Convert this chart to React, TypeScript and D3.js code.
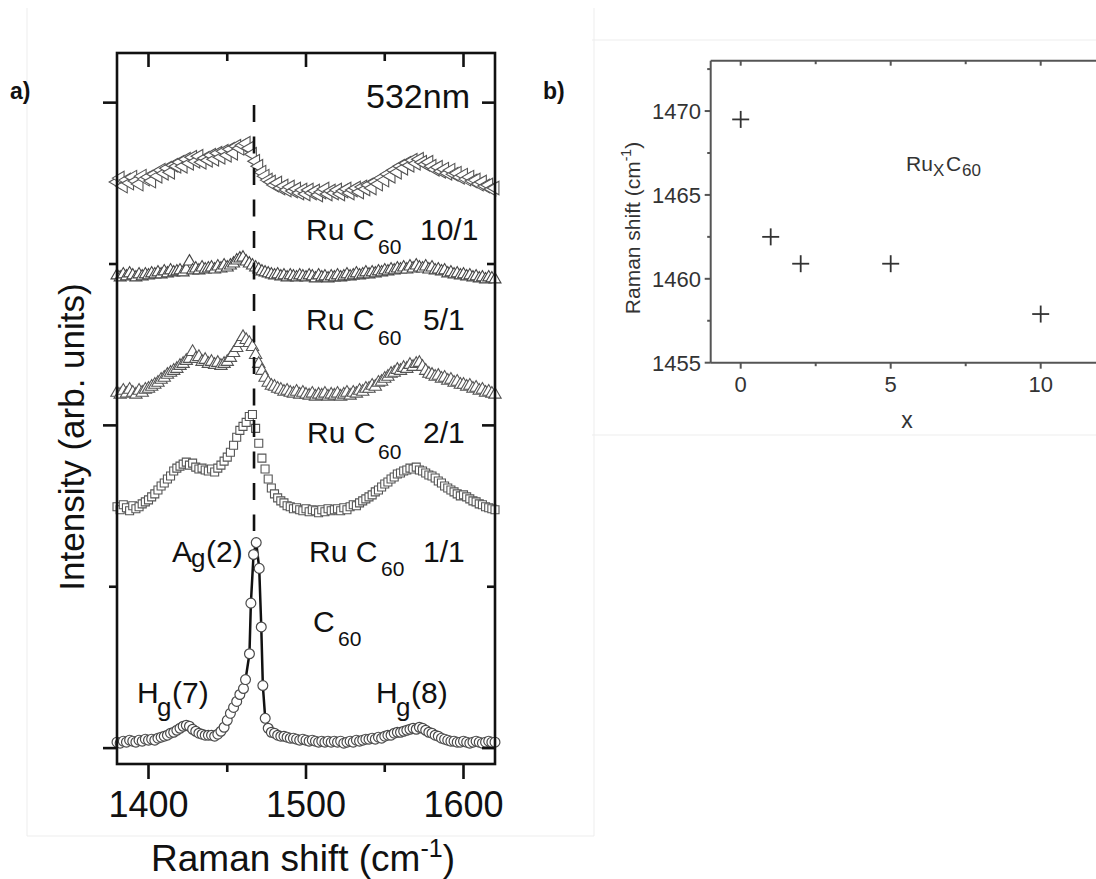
import React from 'react';
import * as d3 from 'd3';

const FONT = "'Liberation Sans', Arial, Helvetica, sans-serif";

// ---------- Panel a data (stacked Raman spectra, arb. units) ----------
const shiftGrid = d3.range(1380, 1621, 2); // wavenumbers (cm-1) for Ru-C60 spectra

const ru10_1 = [
  570, 574, 566, 572, 569, 575, 571, 568, 576, 573,
  575, 571, 578, 576, 582, 579, 584, 580, 587, 586,
  590, 586, 593, 589, 595, 591, 596, 590, 594, 592,
  597, 593, 599, 595, 601, 597, 603, 599, 606, 604,
  607, 609, 604, 598, 591, 586, 580, 576, 572, 570,
  567, 569, 564, 566, 562, 565, 561, 563, 559, 562,
  558, 562, 559, 561, 557, 560, 563, 558, 561, 559,
  562, 558, 561, 563, 559, 562, 564, 560, 565, 563,
  567, 564, 570, 568, 574, 572, 578, 576, 582, 580,
  586, 584, 589, 587, 592, 589, 593, 590, 588, 590,
  586, 583, 585, 581, 583, 579, 582, 578, 579, 575,
  577, 573, 575, 571, 572, 568, 570, 566, 567, 563,
  564,
];

const ru5_1 = [
  476, 474, 477, 475, 478, 476, 474, 477, 475, 477,
  476, 478, 477, 479, 477, 480, 478, 481, 479, 480,
  481, 479, 482, 490, 481, 483, 481, 484, 482, 483,
  484, 482, 485, 483, 486, 484, 486, 488, 491, 493,
  494, 490, 488, 486, 484, 482, 480, 479, 478, 477,
  476, 477, 475, 476, 474, 476, 475, 474, 476, 475,
  474, 476, 475, 473, 476, 474, 475, 473, 475, 474,
  476, 474, 475, 477, 475, 476, 478, 476, 477, 479,
  477, 479, 478, 480, 479, 481, 480, 482, 481, 483,
  482, 484, 482, 485, 483, 486, 484, 483, 485, 482,
  484, 481, 482, 480, 481, 478, 479, 477, 478, 476,
  477, 475, 476, 474, 475, 473, 474, 472, 474, 473,
  472,
];

const ru2_1 = [
  358, 356, 360, 357, 361, 358, 356, 360, 358, 361,
  362, 364, 366, 368, 371, 373, 376, 378, 380, 382,
  385, 387, 390, 392, 399, 392, 394, 389, 391, 387,
  389, 386, 388, 385, 387, 389, 393, 398, 403, 408,
  414, 411, 408, 404, 396, 387, 380, 373, 368, 365,
  364, 362, 361, 359, 360, 358, 357, 359, 356, 358,
  356, 355, 357, 354, 356, 355, 357, 354, 356, 355,
  357, 354, 356, 358, 355, 358, 357, 360, 359, 362,
  362, 365, 364, 368, 369, 372, 374, 377, 378, 381,
  380, 383, 382, 386, 384, 387, 388, 384, 380, 377,
  376, 374, 375, 372, 373, 370, 371, 368, 369, 366,
  366, 364, 365, 362, 363, 360, 361, 358, 359, 357,
  356,
];

const ru1_1 = [
  243, 240, 245, 242, 239, 244, 241, 243, 246, 248,
  250, 253, 256, 260, 264, 267, 271, 274, 279, 282,
  284, 286, 288, 285, 287, 283, 281, 282, 280, 279,
  281, 278, 282, 285, 289, 293, 298, 305, 313, 320,
  324, 328, 334, 336, 322, 307, 292, 281, 271, 262,
  256, 252, 249, 247, 244, 243, 241, 242, 240, 239,
  241, 238, 240, 239, 237, 240, 238, 241, 239, 240,
  241, 239, 242, 240, 243, 245, 244, 247, 249, 251,
  253, 255, 258, 260, 263, 266, 268, 271, 273, 276,
  277, 279, 280, 282, 281, 283, 280, 279, 277, 275,
  274, 272, 269, 267, 264, 262, 260, 258, 256, 254,
  255, 253, 251, 249, 248, 246, 245, 243, 242, 241,
  240,
];

const c60Shift = [
  ...d3.range(1380, 1459, 2),
  1460.3, 1461.6, 1464.1, 1465.0, 1466.7, 1468.4, 1470.3, 1471.6, 1472.6, 1474.1,
  ...d3.range(1476, 1621, 2),
];
const c60Intensity = [
  6, 5, 7, 6, 8, 7, 6, 8, 7, 9,
  8, 9, 8, 10, 11, 12, 13, 15, 16, 18,
  20, 22, 23, 22, 19, 17, 15, 14, 13, 13,
  13, 12, 14, 17, 21, 28, 35, 41, 47, 54,
  60, 69, 95, 146, 195, 207, 181, 122, 63, 30,
  20, 16, 15, 13, 12, 12, 11, 10, 10, 9,
  8, 9, 8, 7, 8, 7, 6, 7, 6, 7,
  6, 7, 6, 7, 5, 6, 7, 6, 8, 7,
  8, 9, 9, 10, 9, 11, 10, 12, 13, 13,
  15, 16, 16, 17, 18, 19, 20, 19, 21, 20,
  18, 16, 15, 13, 12, 10, 9, 8, 7, 7,
  6, 6, 7, 6, 5, 6, 7, 6, 5, 6,
  7, 6, 6,
];

const ag2Position = 1467; // dashed reference line (cm-1)
const xTicksA = [1400, 1500, 1600];
const xMinorA = [1450, 1550];
const yTicksA = [0, 325, 650];
const yMinorA = [162.5, 487.5];

// ---------- Panel b data ----------
const ruRatio = [0, 1, 2, 5, 10];
const ag2Shift = [1469.5, 1462.5, 1460.9, 1460.9, 1457.9];
const xTicksB = [0, 5, 10];
const xMinorB = [2.5, 7.5, 12.5];
const yTicksB = [1455, 1460, 1465, 1470];
const yMinorB = [1457.5, 1462.5, 1467.5, 1472.5];

export default function App() {
  const W = 1096, H = 879;
  // panel a
  const L = 117, R = 495, T = 53, B = 764;
  const xA = d3.scaleLinear().domain([1380, 1620]).range([L, R]);
  const yA = d3.scaleLinear().domain([-16, 700]).range([B, T]);

  // panel b
  const bL = 710.7, bT = 60.7, bB = 362.7, bR = 1130.7;
  const xB = d3.scaleLinear().domain([-1, 13]).range([bL, bR]);
  const yB = d3.scaleLinear().domain([1455, 1473]).range([bB, bT]);

  const sym = (type: any, size: number) => d3.symbol().type(type).size(size)() as string;

  const ruSeries = [
    { key: 's10', values: ru10_1, path: sym(d3.symbolTriangle, 80), rot: -90, stroke: '#555' },
    { key: 's5', values: ru5_1, path: sym(d3.symbolTriangle, 62), rot: 0, stroke: '#444' },
    { key: 's2', values: ru2_1, path: sym(d3.symbolTriangle, 66), rot: 0, stroke: '#555' },
    { key: 's1', values: ru1_1, path: sym(d3.symbolSquare, 64), rot: 0, stroke: '#555' },
  ];
  const circlePath = sym(d3.symbolCircle, 76);

  const c60Line = d3.line<number>()
    .x((_, i) => xA(c60Shift[i]))
    .y((d) => yA(d))(c60Intensity) as string;

  const frameW = 2.6;
  const labelSize = 30;

  const ruLabel = (x: number, base: number, ratio: string, subX: number, ratioX: number, subDy: number) => (
    <text fontFamily={FONT} fontSize={labelSize} fill="#111">
      <tspan x={x} y={base}>Ru C</tspan>
      <tspan x={subX} y={base + subDy} fontSize={21}>60</tspan>
      <tspan x={ratioX} y={base}>{ratio}</tspan>
    </text>
  );

  return (
    <svg width={W} height={H} viewBox={`0 0 ${W} ${H}`}
      style={{ position: 'absolute', left: 0, top: 0, background: '#fff' }}>
      <rect x={0} y={0} width={W} height={H} fill="#fff" />
      {/* faint panel frames of the original figure */}
      <g stroke="#ededed" strokeWidth={1} fill="none">
        <line x1={27} y1={8} x2={27} y2={836} />
        <line x1={594} y1={8} x2={594} y2={836} />
        <line x1={27} y1={836} x2={594} y2={836} />
        <line x1={592} y1={40} x2={W} y2={40} />
        <line x1={592} y1={435} x2={W} y2={435} />
      </g>

      {/* ================= Panel a ================= */}
      <text x={10} y={99} fontFamily={FONT} fontSize={23} fontWeight="bold" fill="#111">a)</text>

      {/* C60 connecting line */}
      <path d={c60Line} fill="none" stroke="#111" strokeWidth={2.5} />

      {/* Ru-C60 spectra */}
      {ruSeries.map((s) => (
        <g key={s.key}>
          {s.values.map((v, i) => (
            <path key={i} d={s.path}
              transform={`translate(${xA(shiftGrid[i])},${yA(v)}) rotate(${s.rot})`}
              fill="#fff" stroke={s.stroke} strokeWidth={1.1} />
          ))}
        </g>
      ))}
      {/* C60 spectrum */}
      <g>
        {c60Intensity.map((v, i) => (
          <path key={i} d={circlePath}
            transform={`translate(${xA(c60Shift[i])},${yA(v)})`}
            fill="#fff" stroke="#4a4a4a" strokeWidth={1.2} />
        ))}
      </g>

      {/* dashed reference line */}
      <line x1={xA(ag2Position)} x2={xA(ag2Position)} y1={105} y2={531}
        stroke="#111" strokeWidth={2.6} strokeDasharray="17 14.5" />

      {/* frame */}
      <rect x={L} y={T} width={R - L} height={B - T} fill="none" stroke="#111" strokeWidth={frameW} />
      <g stroke="#111" strokeWidth={frameW}>
        {xTicksA.map((t) => (
          <g key={t}>
            <line x1={xA(t)} x2={xA(t)} y1={B} y2={B + 15} />
            <line x1={xA(t)} x2={xA(t)} y1={T} y2={T + 14} />
          </g>
        ))}
        {xMinorA.map((t) => (
          <g key={t}>
            <line x1={xA(t)} x2={xA(t)} y1={B} y2={B + 8} />
            <line x1={xA(t)} x2={xA(t)} y1={T} y2={T + 8} />
          </g>
        ))}
        {yTicksA.map((t) => (
          <g key={t}>
            <line x1={L - 14} x2={L} y1={yA(t)} y2={yA(t)} />
            <line x1={R - 13} x2={R} y1={yA(t)} y2={yA(t)} />
          </g>
        ))}
        {yMinorA.map((t) => (
          <g key={t}>
            <line x1={L - 8} x2={L} y1={yA(t)} y2={yA(t)} />
            <line x1={R - 8} x2={R} y1={yA(t)} y2={yA(t)} />
          </g>
        ))}
      </g>
      {xTicksA.map((t) => (
        <text key={t} x={xA(t)} y={817} textAnchor="middle" fontFamily={FONT} fontSize={36} fill="#111">{t}</text>
      ))}

      {/* axis titles */}
      <text transform="translate(84,437) rotate(-90)" textAnchor="middle" fontFamily={FONT} fontSize={35} fill="#111">
        Intensity (arb. units)
      </text>
      <text x={303} y={871} textAnchor="middle" fontFamily={FONT} fontSize={37} fill="#111">
        Raman shift (cm<tspan fontSize={25} dy={-14}>-1</tspan><tspan dy={14}>)</tspan>
      </text>

      {/* annotations */}
      <text x={470} y={108} textAnchor="end" fontFamily={FONT} fontSize={34} fill="#111">532nm</text>
      {ruLabel(306, 240, '10/1', 378, 420, 14)}
      {ruLabel(306, 330, '5/1', 378, 423, 15)}
      {ruLabel(307, 443, '2/1', 378, 423, 16)}
      {ruLabel(309, 562, '1/1', 381, 423, 14)}
      <text fontFamily={FONT} fontSize={labelSize} fill="#111">
        <tspan x={313} y={632}>C</tspan>
        <tspan x={338} y={646} fontSize={21}>60</tspan>
      </text>
      <text fontFamily={FONT} fontSize={labelSize} fill="#111">
        <tspan x={172} y={562}>A</tspan>
        <tspan x={191} y={567} fontSize={26}>g</tspan>
        <tspan x={206} y={562}>(2)</tspan>
      </text>
      <text fontFamily={FONT} fontSize={labelSize} fill="#111">
        <tspan x={137} y={703}>H</tspan>
        <tspan x={157} y={716} fontSize={26}>g</tspan>
        <tspan x={172} y={703}>(7)</tspan>
      </text>
      <text fontFamily={FONT} fontSize={labelSize} fill="#111">
        <tspan x={376} y={703}>H</tspan>
        <tspan x={396} y={716} fontSize={26}>g</tspan>
        <tspan x={411} y={703}>(8)</tspan>
      </text>

      {/* ================= Panel b ================= */}
      <text x={543} y={99} fontFamily={FONT} fontSize={23} fontWeight="bold" fill="#111">b)</text>
      <g stroke="#555" strokeWidth={2}>
        <line x1={bL} x2={bR} y1={bT} y2={bT} />
        <line x1={bL} x2={bR} y1={bB} y2={bB} />
        <line x1={bL} x2={bL} y1={bT} y2={bB} />
        {xTicksB.map((t) => (
          <g key={t}>
            <line x1={xB(t)} x2={xB(t)} y1={bB} y2={bB + 6} />
            <line x1={xB(t)} x2={xB(t)} y1={bT} y2={bT + 5} />
          </g>
        ))}
        {xMinorB.map((t) => (
          <g key={t}>
            <line x1={xB(t)} x2={xB(t)} y1={bB} y2={bB + 3.5} />
            <line x1={xB(t)} x2={xB(t)} y1={bT} y2={bT + 3.5} />
          </g>
        ))}
        {yTicksB.map((t) => (
          <line key={t} x1={bL - 6} x2={bL} y1={yB(t)} y2={yB(t)} />
        ))}
        {yMinorB.map((t) => (
          <line key={t} x1={bL - 3.5} x2={bL} y1={yB(t)} y2={yB(t)} />
        ))}
      </g>
      {yTicksB.map((t) => (
        <text key={t} x={701} y={yB(t) + 8} textAnchor="end" fontFamily={FONT} fontSize={22} fill="#333">{t}</text>
      ))}
      {xTicksB.map((t) => (
        <text key={t} x={xB(t)} y={392} textAnchor="middle" fontFamily={FONT} fontSize={22} fill="#333">{t}</text>
      ))}
      <text x={907} y={428} textAnchor="middle" fontFamily={FONT} fontSize={23} fill="#333">x</text>
      <text transform="translate(640,228) rotate(-90)" textAnchor="middle" fontFamily={FONT} fontSize={21} fill="#333">
        Raman shift (cm<tspan fontSize={14} dy={-9}>-1</tspan><tspan dy={9}>)</tspan>
      </text>
      <text fontFamily={FONT} fontSize={21} fill="#333">
        <tspan x={906} y={171}>Ru</tspan>
        <tspan x={933} y={176} fontSize={17}>X</tspan>
        <tspan x={946} y={171}>C</tspan>
        <tspan x={962} y={176} fontSize={17}>60</tspan>
      </text>
      {ruRatio.map((r, i) => (
        <g key={r} stroke="#333" strokeWidth={1.8}>
          <line x1={xB(r) - 8.5} x2={xB(r) + 8.5} y1={yB(ag2Shift[i])} y2={yB(ag2Shift[i])} />
          <line x1={xB(r)} x2={xB(r)} y1={yB(ag2Shift[i]) - 8.5} y2={yB(ag2Shift[i]) + 8.5} />
        </g>
      ))}
    </svg>
  );
}
